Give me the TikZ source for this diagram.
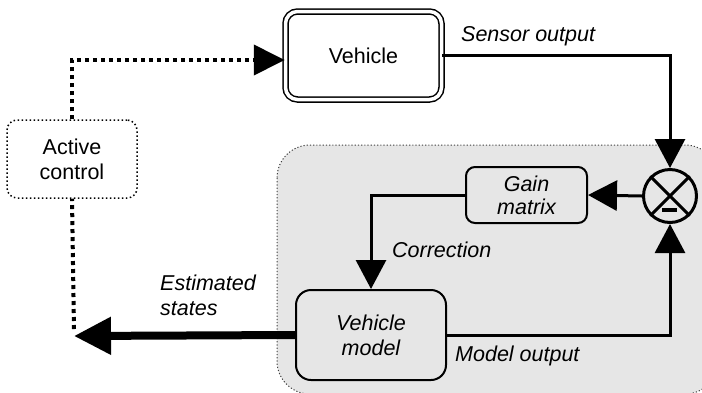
\documentclass[tikz,border=0pt]{standalone}
\usepackage{fontspec}
\setmainfont{Liberation Sans}
\usetikzlibrary{arrows.meta,positioning,calc}
\definecolor{panel}{RGB}{230,230,230}
\begin{document}
\begin{tikzpicture}[x=1pt,y=-1pt,
  every node/.style={font=\fontsize{21.5}{25}\selectfont},
  blockbox/.style={draw,line width=2pt,rounded corners=#1,fill=none,inner sep=0pt,align=center},
  lbl/.style={font=\fontsize{21.5}{25}\selectfont\itshape,inner sep=0pt,align=left},
  conn/.style={line width=3pt,-{Triangle[length=29pt,width=30pt]}},
  ctrl/.style={line width=4pt,dash pattern=on 4pt off 4pt},
]
\useasboundingbox (0,0) rectangle (702,392);
\begin{scope}
  \clip (0,0) rectangle (702,392);
  % estimator panel
  \draw[fill=panel,draw=black!75,line width=1pt,dash pattern=on 1.2pt off 2pt,rounded corners=33pt]
    (277,145) rectangle (718,394);
\end{scope}

% blocks
\node[draw,double,double distance=3.5pt,line width=1.5pt,rounded corners=12pt,
      minimum width=156pt,minimum height=88pt,inner sep=0pt] (veh) at (363.5,55.5) {Vehicle};
\node[draw,line width=1.5pt,dash pattern=on 1.5pt off 2.5pt,rounded corners=10pt,
      minimum width=130pt,minimum height=78pt,inner sep=0pt,align=center] (act) at (72,159)
      {Active\\control};
\node[blockbox=9pt,minimum width=121pt,minimum height=56pt,font=\fontsize{21.5}{23}\selectfont\itshape]
      (gain) at (526.5,195) {Gain\\matrix};
\node[blockbox=15pt,minimum width=150pt,minimum height=90pt,font=\fontsize{21.5}{25}\selectfont\itshape]
      (model) at (371,335) {Vehicle\\model};
\node[circle,draw,line width=3pt,minimum size=53pt,inner sep=0pt] (sum) at (670,196) {};
\draw[line width=3pt] (sum.45) -- (sum.225) (sum.135) -- (sum.315);
\draw[line width=3.5pt] ($(sum.center)+(-8,14)$) -- ($(sum.center)+(7,14)$);

% free end of the state output
\coordinate (est) at (74,336);

% connectors
\draw[conn] (veh.east) -| (sum.north);
\draw[conn] (sum.west) -- (gain.east);
\draw[conn] (gain.west) -| (model.north);
\draw[conn] (model.east) -| (sum.south);
\draw[line width=8pt,-{Triangle[length=37pt,width=36pt]}] (model.west) -- (est);
\draw[ctrl] ($(est)+(0,-7)$) -- (act.south);
\draw[ctrl,-{Triangle[length=31pt,width=30pt]}] (act.north) |- ([yshift=-4.5pt]veh.west);

% labels
\node[lbl,anchor=west] (lsens) at (461,36) {Sensor output};
\node[lbl,anchor=west] (lcorr) at (392,250) {Correction};
\node[lbl,anchor=west] (lest) at (160,295) {Estimated\\states};
\node[lbl,anchor=west] (lmod) at (455,356) {Model output};
\end{tikzpicture}
\end{document}
